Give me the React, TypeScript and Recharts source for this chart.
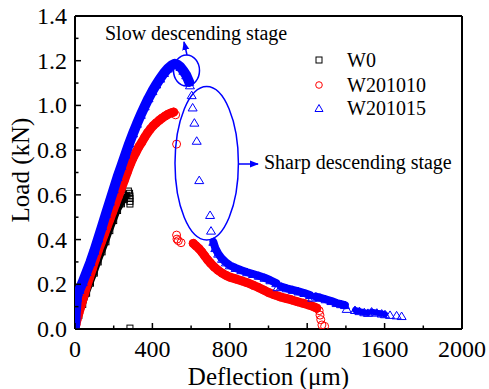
import React from 'react';
import { ScatterChart, Scatter, XAxis, YAxis, ReferenceLine } from 'recharts';

const BLUE = '#0000ff';
const RED = '#ff0000';
const BLACK = '#000000';
const FONT = '"Liberation Serif", "Times New Roman", serif';

const xTicks = [0, 200, 400, 600, 800, 1000, 1200, 1400, 1600, 1800, 2000];
const yTicks = [0, 0.1, 0.2, 0.3, 0.4, 0.5, 0.6, 0.7, 0.8, 0.9, 1.0, 1.1, 1.2, 1.3, 1.4];
const seriesNames = ['W0', 'W201010', 'W201015'];

// W0
const w0Band: [number, number][] = [
  [0, 0.01], [20, 0.06], [40, 0.11], [60, 0.16], [80, 0.205], [100, 0.25], [120, 0.3],
  [140, 0.345], [160, 0.39], [180, 0.44], [200, 0.485], [220, 0.53], [240, 0.56],
  [255, 0.58], [268, 0.598],
];
const w0Points: [number, number][] = [
  [276, 0.617], [282, 0.607], [284, 0.595], [284, 0.584], [284, 0.571], [284, 0.559], [284, 0.004],
];

// W201010
const w10BandA: [number, number][] = [
  [0, 0.005], [5, 0.02], [10, 0.04], [20, 0.07], [30, 0.1], [40, 0.13], [50, 0.16], [60, 0.19],
  [75, 0.23], [90, 0.27], [105, 0.31], [120, 0.35], [135, 0.385], [150, 0.42], [165, 0.455],
  [180, 0.49], [195, 0.525], [210, 0.56], [225, 0.595], [240, 0.63], [255, 0.665], [270, 0.7],
  [285, 0.735], [300, 0.765], [315, 0.79], [330, 0.815], [345, 0.835], [360, 0.858],
  [375, 0.878], [390, 0.895], [405, 0.91], [420, 0.922], [435, 0.933], [450, 0.943],
  [465, 0.952], [480, 0.96], [495, 0.966], [510, 0.97],
];
const w10Points: [number, number][] = [
  [520, 0.958], [525, 0.827], [525, 0.42], [527, 0.402], [534, 0.395], [548, 0.386],
  [1262, 0.082], [1266, 0.062], [1270, 0.042], [1276, 0.018], [1290, 0.012],
];
const w10BandB: [number, number][] = [
  [611, 0.383], [625, 0.372], [640, 0.36], [655, 0.345], [670, 0.327], [685, 0.31], [700, 0.295],
  [720, 0.277], [740, 0.262], [760, 0.25], [780, 0.24], [800, 0.232], [830, 0.224], [860, 0.216],
  [890, 0.207], [920, 0.196], [950, 0.185], [975, 0.174], [1000, 0.163], [1030, 0.153],
  [1060, 0.144], [1090, 0.137], [1120, 0.13], [1150, 0.122], [1180, 0.115], [1210, 0.107],
  [1235, 0.099], [1250, 0.093],
];

// W201015
const w15BandA: [number, number][] = [
  [0, 0.01], [3, 0.06], [6, 0.1], [10, 0.14], [15, 0.165], [23, 0.175], [40, 0.21], [60, 0.255],
  [80, 0.3], [100, 0.35], [120, 0.405], [140, 0.46], [160, 0.515], [180, 0.57], [200, 0.625],
  [220, 0.68], [240, 0.73], [260, 0.78], [280, 0.83], [300, 0.875], [320, 0.918], [340, 0.958],
  [360, 0.996], [380, 1.032], [400, 1.064], [420, 1.094], [440, 1.12], [460, 1.145],
  [480, 1.165], [500, 1.18], [515, 1.186], [530, 1.182], [545, 1.172], [560, 1.155],
  [575, 1.135], [590, 1.105],
];
const w15Points: [number, number][] = [
  [594, 1.09], [603, 1.046], [608, 0.991], [617, 0.923], [629, 0.842], [642, 0.666],
  [698, 0.51], [703, 0.44], [1047, 0.187], [1226, 0.14], [1404, 0.09],
  [1628, 0.063], [1662, 0.061], [1688, 0.058],
];
const w15BandB: [number, number][] = [
  [715, 0.39], [725, 0.362], [740, 0.337], [760, 0.314], [780, 0.298], [800, 0.285], [830, 0.273],
  [860, 0.263], [890, 0.254], [920, 0.246], [950, 0.238], [980, 0.229], [1010, 0.218], [1040, 0.205],
];
const w15BandC: [number, number][] = [
  [1065, 0.19], [1094, 0.182], [1125, 0.175], [1155, 0.168], [1185, 0.161], [1214, 0.152],
];
const w15BandD: [number, number][] = [
  [1245, 0.145], [1266, 0.14], [1295, 0.133], [1325, 0.125], [1352, 0.116], [1375, 0.111], [1395, 0.107],
];
const w15BandE: [number, number][] = [
  [1447, 0.085], [1470, 0.08], [1495, 0.075], [1514, 0.072],
];
const w15BandF: [number, number][] = [
  [1533, 0.078], [1560, 0.073], [1585, 0.069], [1602, 0.066],
];

const toData = (a: [number, number][]) => a.map(([x, y]) => ({ x, y }));

const Square = (p: any) => (
  <rect x={p.cx - 3} y={p.cy - 3} width={6} height={6} fill="none" stroke={BLACK} strokeWidth={1} />
);
const Circ = (p: any) => <circle cx={p.cx} cy={p.cy} r={4} fill="none" stroke={RED} strokeWidth={1} />;
const Tri = (p: any) => (
  <polygon
    points={`${p.cx - 4.5},${p.cy + 3.5} ${p.cx + 4.5},${p.cy + 3.5} ${p.cx},${p.cy - 4}`}
    fill="none"
    stroke={BLUE}
    strokeWidth={1}
  />
);

const bandLine = (color: string, w: number) => ({
  stroke: color,
  strokeWidth: w,
  strokeLinejoin: 'round' as const,
  strokeLinecap: 'round' as const,
  fill: 'none',
});

const XTick = (props: any) => {
  const { x, y, payload } = props;
  const major = payload.value % 400 === 0;
  return (
    <g>
      <line x1={x} x2={x} y1={y} y2={y - (major ? 6 : 3.5)} stroke={BLACK} strokeWidth={1.5} />
      {major && (
        <text x={x} y={y + 28} textAnchor="middle" fontFamily={FONT} fontSize={24} fill={BLACK}>
          {payload.value}
        </text>
      )}
    </g>
  );
};

const YTick = (props: any) => {
  const { x, y, payload } = props;
  const major = Math.round(payload.value * 10) % 2 === 0;
  return (
    <g>
      <line x1={x} x2={x + (major ? 6 : 3.5)} y1={y} y2={y} stroke={BLACK} strokeWidth={1.5} />
      {major && (
        <text x={x - 8} y={y + 8} textAnchor="end" fontFamily={FONT} fontSize={24} fill={BLACK}>
          {Number(payload.value).toFixed(1)}
        </text>
      )}
    </g>
  );
};

export default function App() {
  return (
    <div style={{ position: 'absolute', left: 0, top: 0, width: 489, height: 389, background: '#fff' }}>
      <ScatterChart width={489} height={389} margin={{ top: 16, right: 27, bottom: 0, left: 0 }}>
        <XAxis
          type="number"
          dataKey="x"
          domain={[0, 2000]}
          ticks={xTicks}
          interval={0}
          height={60}
          tickSize={0}
          tickMargin={0}
          tickLine={false}
          tick={<XTick />}
          axisLine={{ stroke: BLACK, strokeWidth: 2 }}
          allowDataOverflow
        />
        <YAxis
          type="number"
          dataKey="y"
          domain={[0, 1.4]}
          ticks={yTicks}
          interval={0}
          width={75}
          tickSize={0}
          tickMargin={0}
          tickLine={false}
          tick={<YTick />}
          axisLine={{ stroke: BLACK, strokeWidth: 2 }}
          allowDataOverflow
        />
        <ReferenceLine y={1.4} stroke={BLACK} strokeWidth={2} />
        <ReferenceLine x={2000} stroke={BLACK} strokeWidth={2} />

        <Scatter name={seriesNames[0]} data={toData(w0Band)} shape={Square} line={bandLine(BLACK, 6)} lineType="joint" isAnimationActive={false} />
        <Scatter name={seriesNames[0]} data={toData(w0Points)} shape={Square} isAnimationActive={false} />

        <Scatter name={seriesNames[1]} data={toData(w10BandA)} shape={Circ} line={bandLine(RED, 9)} lineType="joint" isAnimationActive={false} />
        <Scatter name={seriesNames[1]} data={toData(w10BandB)} shape={Circ} line={bandLine(RED, 9)} lineType="joint" isAnimationActive={false} />
        <Scatter name={seriesNames[1]} data={toData(w10Points)} shape={Circ} isAnimationActive={false} />

        <Scatter name={seriesNames[2]} data={toData(w15BandA)} shape={Tri} line={bandLine(BLUE, 10)} lineType="joint" isAnimationActive={false} />
        <Scatter name={seriesNames[2]} data={toData(w15BandB)} shape={Tri} line={bandLine(BLUE, 8)} lineType="joint" isAnimationActive={false} />
        <Scatter name={seriesNames[2]} data={toData(w15BandC)} shape={Tri} line={bandLine(BLUE, 8)} lineType="joint" isAnimationActive={false} />
        <Scatter name={seriesNames[2]} data={toData(w15BandD)} shape={Tri} line={bandLine(BLUE, 8)} lineType="joint" isAnimationActive={false} />
        <Scatter name={seriesNames[2]} data={toData(w15BandE)} shape={Tri} line={bandLine(BLUE, 6)} lineType="joint" isAnimationActive={false} />
        <Scatter name={seriesNames[2]} data={toData(w15BandF)} shape={Tri} line={bandLine(BLUE, 6)} lineType="joint" isAnimationActive={false} />
        <Scatter name={seriesNames[2]} data={toData(w15Points)} shape={Tri} isAnimationActive={false} />
      </ScatterChart>

      <svg
        width={489}
        height={389}
        style={{ position: 'absolute', left: 0, top: 0, pointerEvents: 'none' }}
      >
        <defs>
          <marker id="arr" viewBox="0 0 10 10" refX="9" refY="5" markerWidth="6" markerHeight="6" orient="auto-start-reverse">
            <path d="M0,1 L10,5 L0,9 Z" fill={BLUE} />
          </marker>
        </defs>
        {/* axis titles */}
        <text x={268.5} y={385} textAnchor="middle" fontFamily={FONT} fontSize={25} fill={BLACK}>
          Deflection (μm)
        </text>
        <text
          x={29}
          y={170}
          textAnchor="middle"
          fontFamily={FONT}
          fontSize={25}
          fill={BLACK}
          transform="rotate(-90 29 170)"
        >
          Load (kN)
        </text>

        {/* legend */}
        <rect x={316} y={57} width={6} height={6} fill="none" stroke={BLACK} strokeWidth={1} />
        <text x={347} y={67} fontFamily={FONT} fontSize={20} fill={BLACK}>{seriesNames[0]}</text>
        <circle cx={319} cy={85} r={3.3} fill="none" stroke={RED} strokeWidth={1} />
        <text x={347} y={92} fontFamily={FONT} fontSize={20} fill={BLACK}>{seriesNames[1]}</text>
        <polygon points="315,111.5 323,111.5 319,104.5" fill="none" stroke={BLUE} strokeWidth={1} />
        <text x={347} y={115} fontFamily={FONT} fontSize={20} fill={BLACK}>{seriesNames[2]}</text>

        {/* annotations */}
        <text x={105} y={40} fontFamily={FONT} fontSize={20} fill={BLACK}>Slow descending stage</text>
        <ellipse cx={186.5} cy={70.5} rx={13} ry={15.5} fill="none" stroke={BLUE} strokeWidth={1.5} />
        <line x1={187} y1={55} x2={184} y2={42} stroke={BLUE} strokeWidth={1.5} markerEnd="url(#arr)" />

        <ellipse cx={206.7} cy={163.3} rx={31.7} ry={76.7} fill="none" stroke={BLUE} strokeWidth={1.5} />
        <line x1={238.5} y1={164} x2={258} y2={164} stroke={BLUE} strokeWidth={1.5} markerEnd="url(#arr)" />
        <text x={264} y={169} fontFamily={FONT} fontSize={20} fill={BLACK}>Sharp descending stage</text>
      </svg>
    </div>
  );
}
